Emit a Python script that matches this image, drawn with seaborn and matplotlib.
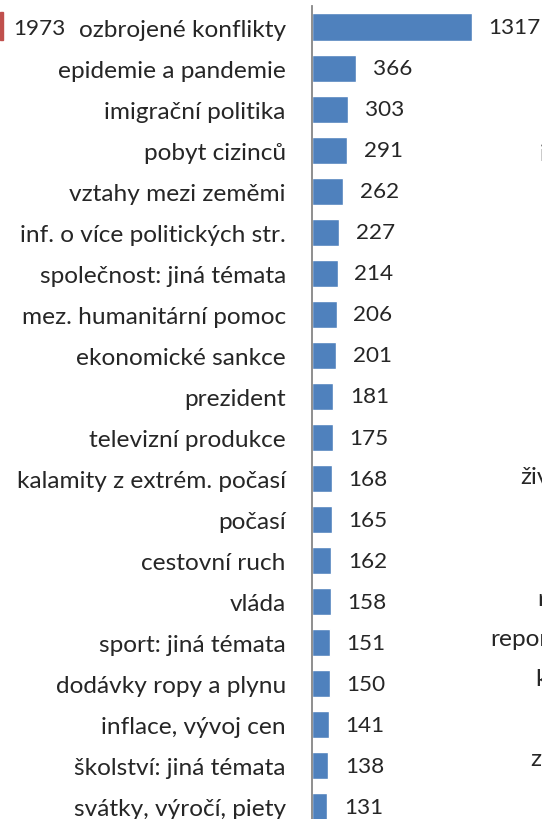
import matplotlib
matplotlib.use("Agg")
import matplotlib.pyplot as plt
import seaborn as sns
import pandas as pd

# topic labels and counts, top to bottom
topics = [
    "ozbrojené konflikty", "epidemie a pandemie", "imigrační politika",
    "pobyt cizinců", "vztahy mezi zeměmi", "inf. o více politických str.",
    "společnost: jiná témata", "mez. humanitární pomoc", "ekonomické sankce",
    "prezident", "televizní produkce", "kalamity z extrém. počasí", "počasí",
    "cestovní ruch", "vláda", "sport: jiná témata", "dodávky ropy a plynu",
    "inflace, vývoj cen", "školství: jiná témata", "svátky, výročí, piety",
]
counts = [1317, 366, 303, 291, 262, 227, 214, 206, 201, 181,
          175, 168, 165, 162, 158, 151, 150, 141, 138, 131]

# fragments of the neighbouring panels that are cut by the crop
left_value = "1973"
right_bits = ["i", "živ", "r", "repor", "k", "zo"]

W, H = 542, 820
BLUE = "#4F81BD"
GREY = "#868686"

sns.set_style("white")
plt.rcParams["font.family"] = ["Lato", "DejaVu Sans"]
FS_LAB = 17.6
FS_VAL = 16.2

df = pd.DataFrame({"topic": topics, "count": counts})

fig = plt.figure(figsize=(W / 100, H / 100), dpi=100)
# plot area in pixels: spine at x=311.5, category -0.5 at y=7.5, 41.05 px per row
row = 41.05
top = 7.5
bottom = top + row * len(topics)
x0 = 311.5
ax = fig.add_axes([x0 / W, 1 - bottom / H, (W - x0) / W, (bottom - top) / H])

sns.barplot(data=df, y="topic", x="count", color=BLUE, width=0.66,
            orient="h", ax=ax, saturation=1)
ax.set_xlim(0, (W - x0) / 0.1215)
ax.set_ylim(len(topics) - 0.5, -0.5)

for s in ["top", "right", "bottom"]:
    ax.spines[s].set_visible(False)
ax.spines["left"].set_color(GREY)
ax.spines["left"].set_linewidth(1.3)
ax.set_xticks([])
ax.set_xlabel("")
ax.set_ylabel("")

# labels on major ticks (no mark), tick marks between categories
ax.tick_params(axis="y", which="major", length=0, pad=18.5, labelsize=FS_LAB)
ax.set_yticks([i - 0.5 for i in range(len(topics) + 1)], minor=True)
ax.tick_params(axis="y", which="minor", length=6.5, width=1.1,
               color=GREY, direction="out")

for i, v in enumerate(counts):
    ax.annotate(str(v), (v, i), xytext=(12, 0), textcoords="offset points",
                va="center", ha="left", fontsize=FS_VAL, annotation_clip=False)

# leftover pieces of the neighbouring charts
fig.patches.append(plt.Rectangle((0, 1 - 41 / H), 3 / W, 28 / H,
                                 transform=fig.transFigure, color="#C0504D"))
fig.text(13 / W, 1 - 29 / H, left_value, fontsize=FS_VAL, va="center", ha="left")
for s, x, y in zip(right_bits, [540, 520, 537, 490, 535, 530],
                   [155, 478, 600, 640, 680, 760]):
    fig.text(x / W, 1 - y / H, s, fontsize=FS_LAB, va="center", ha="left")

fig.savefig("out.png", dpi=100)
